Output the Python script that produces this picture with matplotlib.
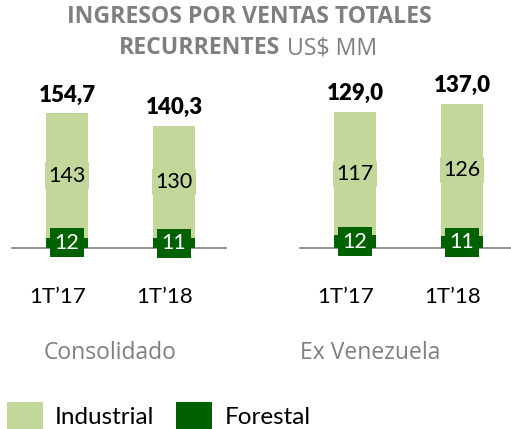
import numpy as np
import matplotlib
matplotlib.use('Agg')
import matplotlib.pyplot as plt

periodos = ['1T’17', '1T’18']
grupos = ['Consolidado', 'Ex Venezuela']
industrial_cons = [143, 130]
forestal_cons = [12, 11]
totales_cons = [154.7, 140.3]
industrial_exv = [117, 126]
forestal_exv = [12, 11]
totales_exv = [129.0, 137.0]

VERDE_CLARO = '#c4d79b'
VERDE_OSCURO = '#006100'
GRIS = '#7f7f7f'
NUM_FONT = 'Lato'
TXT_FONT = 'Open Sans'

W, H = 511, 429
fig = plt.figure(figsize=(W / 100, H / 100), dpi=100)


def panel(left_px, width_px, ymax, industrial, forestal, totales):
    ax = fig.add_axes([left_px / W, 181 / H, width_px / W, 188 / H])
    x = np.arange(len(periodos))
    b_for = ax.bar(x, forestal, width=0.385, color=VERDE_OSCURO, zorder=2)
    b_ind = ax.bar(x, industrial, width=0.385, bottom=forestal, color=VERDE_CLARO, zorder=2)
    ax.set_xlim(-0.514, -0.514 + width_px / 107)
    ax.set_ylim(0, ymax)
    ax.axhline(0, color='#808080', lw=1.2, zorder=1, clip_on=False)
    ax.axis('off')

    for i in range(len(x)):
        ax.text(x[i], forestal[i] + industrial[i] / 2, str(industrial[i]),
                ha='center', va='center', fontsize=15.5, family=NUM_FONT, color='black', zorder=4,
                bbox=dict(boxstyle='square,pad=0.15', fc=VERDE_CLARO, ec='none'))
        ax.text(x[i], forestal[i] / 2, str(forestal[i]),
                ha='center', va='center', fontsize=15.5, family=NUM_FONT, color='white', zorder=4,
                bbox=dict(boxstyle='square,pad=0.2', fc=VERDE_OSCURO, ec='none'))
        ax.annotate(f'{totales[i]:.1f}'.replace('.', ','), xy=(x[i], forestal[i] + industrial[i]),
                    xytext=(0, 12), textcoords='offset pixels', ha='center', va='baseline',
                    fontsize=16, fontweight='heavy', family=NUM_FONT, annotation_clip=False)
        ax.annotate(periodos[i], xy=(x[i], 0), xytext=(-9, -55), textcoords='offset pixels',
                    ha='center', va='baseline', fontsize=16, family=NUM_FONT, annotation_clip=False)
    return b_ind, b_for


b_ind, b_for = panel(12, 214, 216.6, industrial_cons, forestal_cons, totales_cons)
panel(300, 211, 178.7, industrial_exv, forestal_exv, totales_exv)

# titulo
fig.text(249 / W, 1 - 17 / H, 'INGRESOS POR VENTAS TOTALES', ha='center', va='center',
         fontsize=16.6, fontweight='bold', family=TXT_FONT, color=GRIS)
t1 = fig.text(248 / W, 1 - 48 / H, 'RECURRENTES', ha='right', va='center',
              fontsize=16.6, fontweight='bold', family=TXT_FONT, color=GRIS)
fig.canvas.draw()
w_bold = t1.get_window_extent().width
t2 = fig.text(0, 1 - 48 / H, ' US$ MM', ha='left', va='center',
              fontsize=16.6, family=TXT_FONT, color=GRIS)
w_reg = t2.get_window_extent().width
start = 248 - (w_bold + w_reg) / 2
t1.set_position(((start + w_bold) / W, 1 - 48 / H))
t2.set_position(((start + w_bold) / W, 1 - 48 / H))

for g, xc in zip(grupos, [110, 370]):
    fig.text(xc / W, 1 - 353 / H, g, ha='center', va='center', fontsize=16.5,
             family=TXT_FONT, color=GRIS)

fig.legend([b_ind, b_for], ['Industrial', 'Forestal'], loc='upper left',
           bbox_to_anchor=(7 / W, 1 - 402 / H), ncol=2, frameon=False, borderpad=0,
           borderaxespad=0, handlelength=1.48, handleheight=1.4, handletextpad=0.5,
           columnspacing=0.9, prop={'family': NUM_FONT, 'size': 17.5})

fig.savefig('out.png', dpi=100)
